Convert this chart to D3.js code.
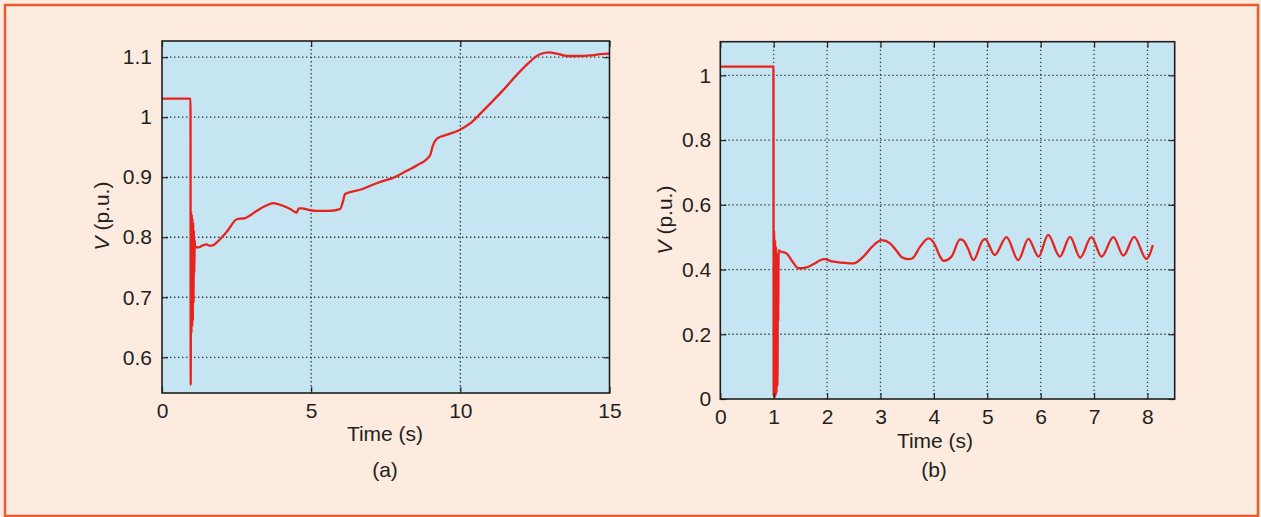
<!DOCTYPE html>
<html>
<head>
<meta charset="utf-8">
<script src="https://cdn.jsdelivr.net/npm/d3@7/dist/d3.min.js"></script>
<style>
  html, body { margin: 0; padding: 0; background: #fdebdf; }
  svg { display: block; }
  text { font-family: "Liberation Sans", Arial, Helvetica, sans-serif; fill: #231f20; }
</style>
</head>
<body>
<svg id="fig" width="1261" height="517"></svg>
<script>
// Bus voltage after the fault, case (a): [time s, voltage p.u.]
const voltageA = [
  [0, 1.031], [0.955, 1.031], [0.962, 0.554], [0.975, 0.843], [0.987, 0.64],
  [0.999, 0.838], [1.011, 0.65], [1.023, 0.832], [1.035, 0.66], [1.047, 0.825],
  [1.059, 0.69], [1.071, 0.812], [1.083, 0.74], [1.095, 0.795], [1.11, 0.784],
  [1.22, 0.783], [1.35, 0.786], [1.50, 0.788],
  [1.58, 0.786], [1.67, 0.786], [1.89, 0.794], [2.17, 0.809], [2.51, 0.830],
  [2.79, 0.832], [3.18, 0.844], [3.46, 0.852], [3.74, 0.857], [4.02, 0.853],
  [4.30, 0.847], [4.52, 0.841], [4.58, 0.848], [4.69, 0.848], [4.97, 0.845],
  [5.19, 0.844], [5.58, 0.844], [5.97, 0.847], [6.05, 0.857], [6.14, 0.872],
  [6.37, 0.876], [6.70, 0.880], [7.04, 0.887], [7.37, 0.893], [7.70, 0.898],
  [8.10, 0.908], [8.55, 0.920], [8.99, 0.937], [9.07, 0.951], [9.21, 0.964],
  [9.55, 0.971], [9.94, 0.978], [10.34, 0.990], [10.67, 1.006], [11.01, 1.023],
  [11.45, 1.046], [11.90, 1.071], [12.30, 1.091], [12.63, 1.104], [12.96, 1.108],
  [13.24, 1.106], [13.58, 1.102], [14.03, 1.102], [14.36, 1.103], [14.70, 1.105],
  [15.0, 1.106]
];

// Bus voltage after the fault, case (b): [time s, voltage p.u.]
const voltageB = [
  [0, 1.027], [0.995, 1.027], [0.999, 0.01], [1.008, 0.52], [1.017, 0.005],
  [1.026, 0.49], [1.035, 0.01], [1.044, 0.47], [1.053, 0.02], [1.062, 0.45],
  [1.071, 0.04], [1.080, 0.40], [1.086, 0.24], [1.092, 0.46], [1.10, 0.458],
  [1.24, 0.450], [1.35, 0.425], [1.46, 0.404], [1.62, 0.407], [1.77, 0.419],
  [1.86, 0.428], [1.96, 0.432], [2.09, 0.425], [2.30, 0.421], [2.49, 0.419],
  [2.68, 0.440], [2.84, 0.470], [3.02, 0.491], [3.18, 0.481], [3.30, 0.458],
  [3.40, 0.438], [3.52, 0.432], [3.60, 0.435], [3.74, 0.470], [3.90, 0.496],
  [4.02, 0.476], [4.10, 0.445], [4.18, 0.427], [4.33, 0.440], [4.49, 0.493],
  [4.55, 0.490], [4.64, 0.465], [4.74, 0.429], [4.92, 0.491], [4.96, 0.494],
  [5.14, 0.445], [5.36, 0.500], [5.58, 0.429], [5.77, 0.495], [5.96, 0.440],
  [6.14, 0.507], [6.36, 0.440], [6.55, 0.501], [6.74, 0.437], [6.95, 0.500],
  [7.14, 0.440], [7.36, 0.500], [7.55, 0.443], [7.75, 0.501], [7.98, 0.433],
  [8.05, 0.450], [8.10, 0.476]
];

const ticksXA = [0, 5, 10, 15];
const ticksYA = [0.6, 0.7, 0.8, 0.9, 1, 1.1];
const ticksXB = [0, 1, 2, 3, 4, 5, 6, 7, 8];
const ticksYB = [0, 0.2, 0.4, 0.6, 0.8, 1];

const FONT = "21px";
const svg = d3.select("#fig");

// page frame
svg.append("rect")
  .attr("x", 5).attr("y", 5).attr("width", 1253).attr("height", 511)
  .attr("fill", "#fdebdf").attr("stroke", "#e95b2c").attr("stroke-width", 2.5);

function drawPanel(cfg) {
  const { left, top, right, bottom, xDomain, yDomain, xTicks, yTicks, data,
          yPad, labelX, labelY, titleX, titleY, tagX, tagY, tag } = cfg;
  const x = d3.scaleLinear().domain(xDomain).range([left, right]);
  const y = d3.scaleLinear().domain(yDomain).range([bottom, top]);
  const g = svg.append("g");

  g.append("rect")
    .attr("x", left).attr("y", top)
    .attr("width", right - left).attr("height", bottom - top)
    .attr("fill", "#c6e5f3");

  // dotted grid
  const grid = g.append("g")
    .attr("stroke", "#3a3a3a").attr("stroke-width", 1.3)
    .attr("stroke-dasharray", "1.4,2.6");
  xTicks.filter(t => x(t) > left + 1 && x(t) < right - 1).forEach(t => {
    grid.append("line").attr("x1", x(t)).attr("x2", x(t))
      .attr("y1", top).attr("y2", bottom);
  });
  yTicks.filter(t => y(t) > top + 1 && y(t) < bottom - 1).forEach(t => {
    grid.append("line").attr("y1", y(t)).attr("y2", y(t))
      .attr("x1", left).attr("x2", right);
  });

  // voltage trace
  const line = d3.line().x(d => x(d[0])).y(d => y(d[1])).curve(d3.curveMonotoneX);
  g.append("path").datum(data)
    .attr("d", line)
    .attr("fill", "none").attr("stroke", "#e8221d")
    .attr("stroke-width", 2.3).attr("stroke-linejoin", "round");

  // axes with inward ticks on all four sides
  const fmt = d => String(d);
  const axB = g.append("g").attr("transform", `translate(0,${bottom})`)
    .call(d3.axisBottom(x).tickValues(xTicks).tickFormat(fmt)
      .tickSizeInner(-6).tickSizeOuter(0).tickPadding(10));
  const axL = g.append("g").attr("transform", `translate(${left},0)`)
    .call(d3.axisLeft(y).tickValues(yTicks).tickFormat(fmt)
      .tickSizeInner(-6).tickSizeOuter(0).tickPadding(yPad));
  const axT = g.append("g").attr("transform", `translate(0,${top})`)
    .call(d3.axisTop(x).tickValues(xTicks).tickFormat("")
      .tickSizeInner(-6).tickSizeOuter(0));
  const axR = g.append("g").attr("transform", `translate(${right},0)`)
    .call(d3.axisRight(y).tickValues(yTicks).tickFormat("")
      .tickSizeInner(-6).tickSizeOuter(0));
  [axB, axL, axT, axR].forEach(a => {
    a.select(".domain").remove();
    a.selectAll("line").attr("stroke", "#222").attr("stroke-width", 1.2);
    a.selectAll("text").style("font-size", FONT).attr("fill", "#231f20")
      .style("font-family", "'Liberation Sans', Arial, sans-serif");
  });

  // frame of the plotting box
  g.append("rect")
    .attr("x", left).attr("y", top)
    .attr("width", right - left).attr("height", bottom - top)
    .attr("fill", "none").attr("stroke", "#1e1e1e").attr("stroke-width", 1.6);

  // axis titles
  const yl = g.append("text")
    .attr("transform", `translate(${labelX},${labelY}) rotate(-90)`)
    .attr("text-anchor", "middle").attr("dy", "0.35em")
    .style("font-size", FONT);
  yl.append("tspan").style("font-style", "italic").text("V");
  yl.append("tspan").text(" (p.u.)");

  g.append("text").attr("x", titleX).attr("y", titleY)
    .attr("text-anchor", "middle").style("font-size", FONT).text("Time (s)");

  g.append("text").attr("x", tagX).attr("y", tagY)
    .attr("text-anchor", "middle").style("font-size", FONT).text(tag);
}

drawPanel({
  left: 162, top: 41, right: 609.5, bottom: 393,
  xDomain: [0, 15], yDomain: [0.5405, 1.127],
  xTicks: ticksXA, yTicks: ticksYA, data: voltageA, yPad: 10,
  labelX: 102, labelY: 216, titleX: 385, titleY: 441,
  tagX: 385, tagY: 477, tag: "(a)"
});

drawPanel({
  left: 720.3, top: 41.7, right: 1174.7, bottom: 399,
  xDomain: [0, 8.51], yDomain: [0, 1.104],
  xTicks: ticksXB, yTicks: ticksYB, data: voltageB, yPad: 9,
  labelX: 665, labelY: 220, titleX: 935, titleY: 448,
  tagX: 934, tagY: 477, tag: "(b)"
});
</script>
</body>
</html>
